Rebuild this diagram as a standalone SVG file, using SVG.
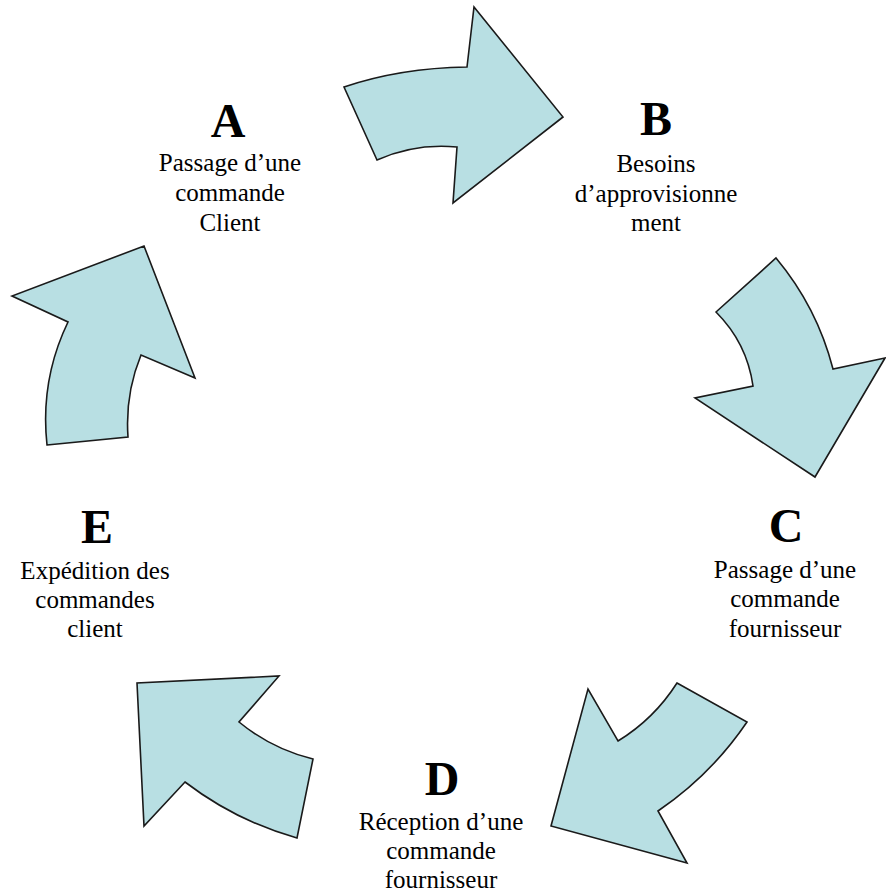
<svg xmlns="http://www.w3.org/2000/svg" width="886" height="894" viewBox="0 0 886 894">
<style>
.arr{fill:#B8DFE3;stroke:#1a1a1a;stroke-width:1.6;stroke-linejoin:miter}
.let{font-family:"Liberation Serif","Times New Roman",serif;font-weight:bold;font-size:48px;fill:#000;text-anchor:middle}
.lab{font-family:"Liberation Serif","Times New Roman",serif;font-size:25px;fill:#000;text-anchor:middle}
</style>
<rect width="886" height="894" fill="#fff"/>
<g id="connectors">
<path id="arrow-AB" class="arr" d="M344,87 Q400,68 467,67 L474,7 L563,117 L453,203 L457,147 Q415,143 377,160 Z"/>
<path id="arrow-BC" class="arr" d="M716,312 L776,258 Q817,307 833,369 L885,358 L815,477 L695,398 L753,386 Q747,343 716,312 Z"/>
<path id="arrow-CD" class="arr" d="M677,683 L747,722 Q711,775 658,811 L687,863 L551,826 L588,689 L618,741 Q654,719 677,683 Z"/>
<path id="arrow-DE" class="arr" d="M313,759 L297,838 Q236,821 185,782 L144,826 L137,683 L279,676 L239,722 Q272,749 313,759 Z"/>
<path id="arrow-EA" class="arr" d="M47,445 L128,437 Q125,394 141,355 L195,378 L144,246 L12,296 L68,322 Q40,380 47,445 Z"/>
</g>
<g id="node-A">
<text class="let" x="228" y="137">A</text>
<text class="lab" x="230" y="171">Passage d’une</text>
<text class="lab" x="230" y="201">commande</text>
<text class="lab" x="230" y="231">Client</text>
</g>
<g id="node-B">
<text class="let" x="656" y="135">B</text>
<text class="lab" x="656" y="172">Besoins</text>
<text class="lab" x="656" y="202">d’approvisionne</text>
<text class="lab" x="656" y="231">ment</text>
</g>
<g id="node-C">
<text class="let" x="786" y="542">C</text>
<text class="lab" x="785" y="578">Passage d’une</text>
<text class="lab" x="785" y="607">commande</text>
<text class="lab" x="785" y="637">fournisseur</text>
</g>
<g id="node-D">
<text class="let" x="442" y="795">D</text>
<text class="lab" x="441" y="830">Réception d’une</text>
<text class="lab" x="441" y="859">commande</text>
<text class="lab" x="441" y="888">fournisseur</text>
</g>
<g id="node-E">
<text class="let" x="97" y="543">E</text>
<text class="lab" x="95" y="579">Expédition des</text>
<text class="lab" x="95" y="608">commandes</text>
<text class="lab" x="95" y="637">client</text>
</g>
</svg>
